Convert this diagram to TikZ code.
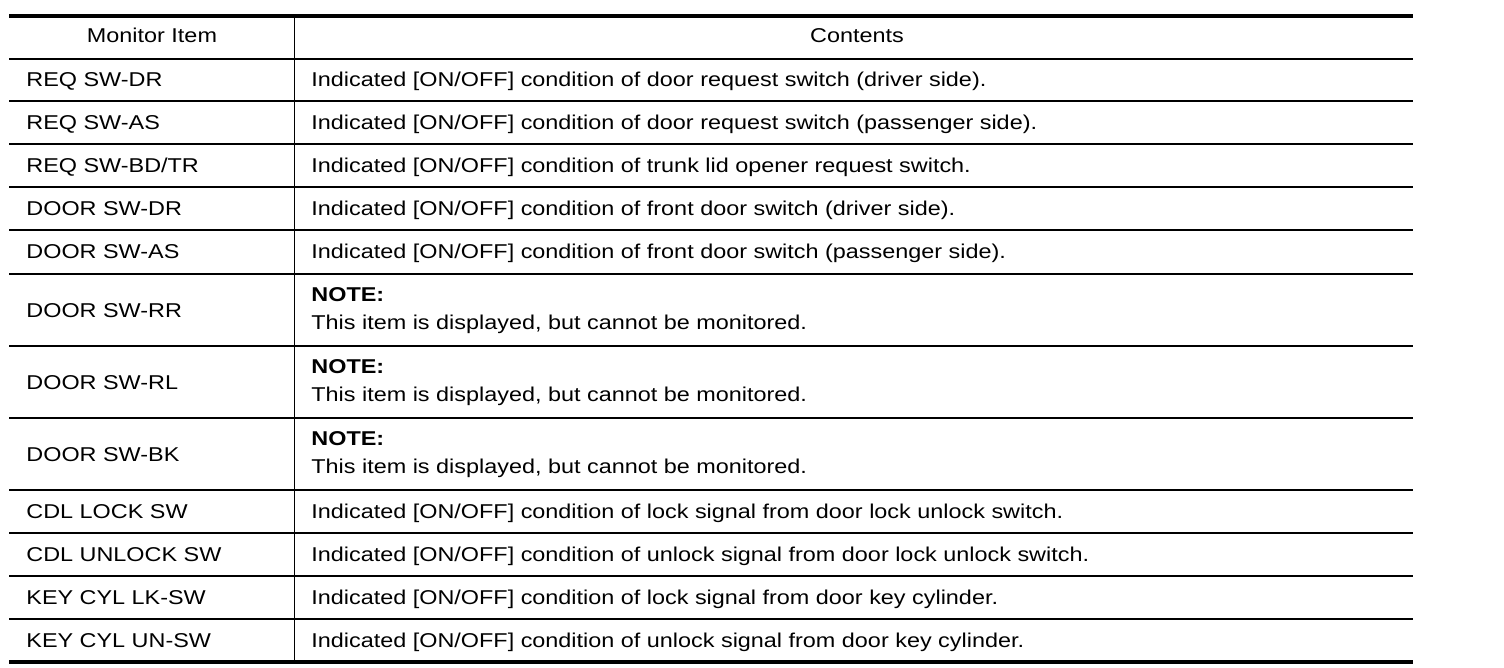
\documentclass[tikz,border=0pt]{standalone}
\usepackage{fontspec}
\setmainfont[FakeStretch=1.17]{Liberation Sans}
\usepackage{tikz}

\begin{document}
\begin{tikzpicture}[x=0.5pt,y=-0.5pt,
    	 head node/.style={anchor=base,inner sep=0pt},
    	 item node/.style={anchor=base west,inner sep=0pt},
    	 text node/.style={anchor=base west,inner sep=0pt},
    	 rule/.style={line width=0.7pt},
    	 heavy rule/.style={line width=2pt}]

	\useasboundingbox (0,0) rectangle (1504,668);
	\fontsize{10pt}{12pt}\selectfont

	% frame
	\draw[heavy rule] (9,16) -- (1413,16);
	\draw[heavy rule] (9,662) -- (1413,662);
	\draw[rule] (294.5,16) -- (294.5,662);
	\foreach \y in {59,101,144,187,230,274,346,418,490,533,576,619}
		\draw[rule] (9,\y) -- (1413,\y);

	% header
	\node[head node] (head1) at (152,43) {Monitor Item};
	\node[head node] (head2) at (857,43) {Contents};

	% items
	\node[item node] (item1)  at (26,87)    {REQ SW-DR};
	\node[item node] (item2)  at (26,129.5) {REQ SW-AS};
	\node[item node] (item3)  at (26,172.5) {REQ SW-BD/TR};
	\node[item node] (item4)  at (26,215.5) {DOOR SW-DR};
	\node[item node] (item5)  at (26,259)   {DOOR SW-AS};
	\node[item node] (item6)  at (26,317)   {DOOR SW-RR};
	\node[item node] (item7)  at (26,389)   {DOOR SW-RL};
	\node[item node] (item8)  at (26,461)   {DOOR SW-BK};
	\node[item node] (item9)  at (26,518.5) {CDL LOCK SW};
	\node[item node] (item10) at (26,561.5) {CDL UNLOCK SW};
	\node[item node] (item11) at (26,604.5) {KEY CYL LK-SW};
	\node[item node] (item12) at (26,647.5) {KEY CYL UN-SW};

	% contents
	\node[text node] (cont1)  at (311,87)    {Indicated [ON/OFF] condition of door request switch (driver side).};
	\node[text node] (cont2)  at (311,129.5) {Indicated [ON/OFF] condition of door request switch (passenger side).};
	\node[text node] (cont3)  at (311,172.5) {Indicated [ON/OFF] condition of trunk lid opener request switch.};
	\node[text node] (cont4)  at (311,215.5) {Indicated [ON/OFF] condition of front door switch (driver side).};
	\node[text node] (cont5)  at (311,259)   {Indicated [ON/OFF] condition of front door switch (passenger side).};
	\node[text node] (note6)  at (311,301)   {\bfseries NOTE:};
	\node[text node] (cont6)  at (311,329)   {This item is displayed, but cannot be monitored.};
	\node[text node] (note7)  at (311,373)   {\bfseries NOTE:};
	\node[text node] (cont7)  at (311,401)   {This item is displayed, but cannot be monitored.};
	\node[text node] (note8)  at (311,445)   {\bfseries NOTE:};
	\node[text node] (cont8)  at (311,473)   {This item is displayed, but cannot be monitored.};
	\node[text node] (cont9)  at (311,518.5) {Indicated [ON/OFF] condition of lock signal from door lock unlock switch.};
	\node[text node] (cont10) at (311,561.5) {Indicated [ON/OFF] condition of unlock signal from door lock unlock switch.};
	\node[text node] (cont11) at (311,604.5) {Indicated [ON/OFF] condition of lock signal from door key cylinder.};
	\node[text node] (cont12) at (311,647.5) {Indicated [ON/OFF] condition of unlock signal from door key cylinder.};

\end{tikzpicture}
\end{document}
